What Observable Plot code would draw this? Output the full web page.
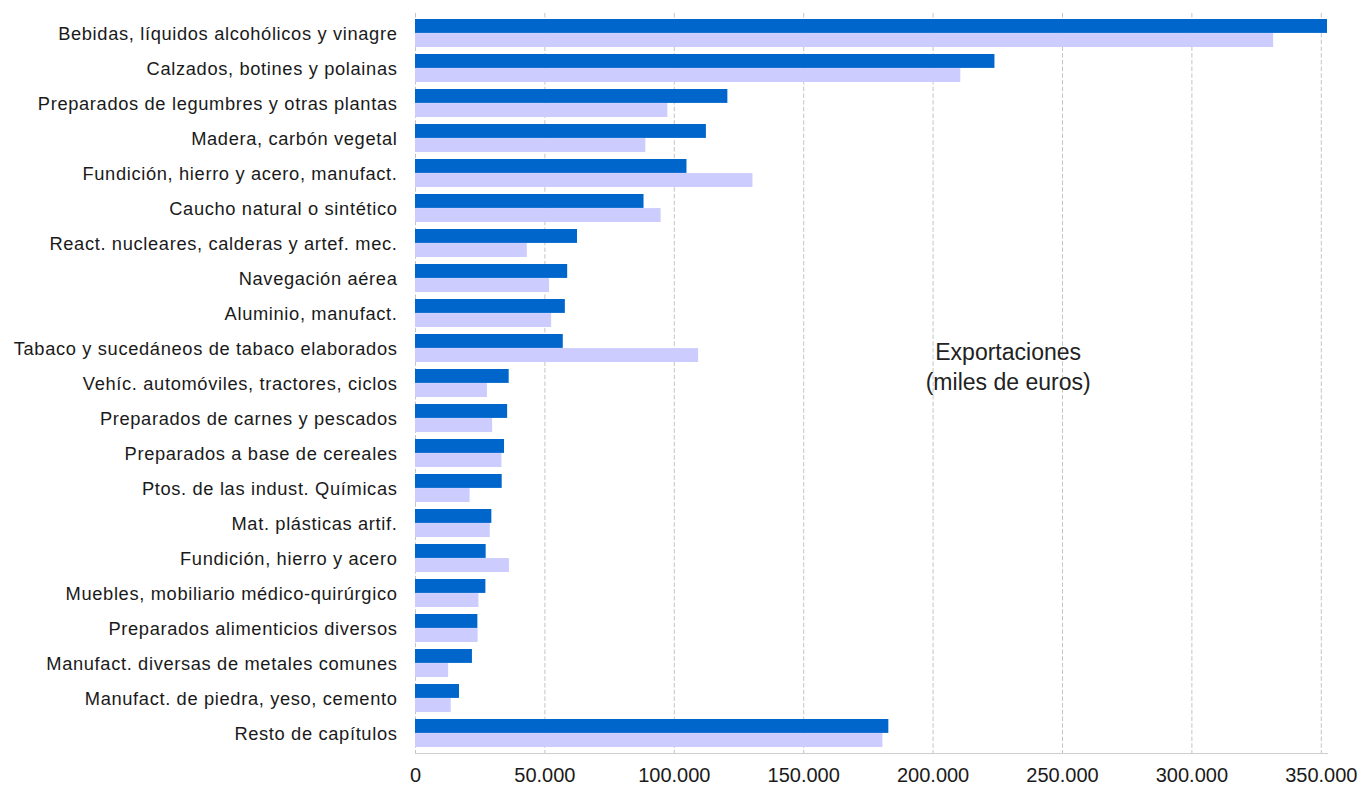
<!DOCTYPE html>
<html>
<head>
<meta charset="utf-8">
<script src="https://cdn.jsdelivr.net/npm/d3@7"></script>
<script src="https://cdn.jsdelivr.net/npm/@observablehq/plot@0.6"></script>
<style>
  html, body { margin: 0; padding: 0; background: #fff; overflow: hidden; }
  #chart svg { display: block; font-family: "Liberation Sans", Arial, Helvetica, sans-serif; color: #1a1a1a; }
  #chart g[aria-label="y-axis tick label"] text { letter-spacing: 0.65px; }
</style>
</head>
<body>
<div id="chart"></div>
<script>
// ---- Data (miles de euros) ----
const categories = [
  "Bebidas, líquidos alcohólicos y vinagre",
  "Calzados, botines y polainas",
  "Preparados de legumbres y otras plantas",
  "Madera, carbón vegetal",
  "Fundición, hierro y acero, manufact.",
  "Caucho natural o sintético",
  "React. nucleares, calderas y artef. mec.",
  "Navegación aérea",
  "Aluminio, manufact.",
  "Tabaco y sucedáneos de tabaco elaborados",
  "Vehíc. automóviles, tractores, ciclos",
  "Preparados de carnes y pescados",
  "Preparados a base de cereales",
  "Ptos. de las indust. Químicas",
  "Mat. plásticas artif.",
  "Fundición, hierro y acero",
  "Muebles, mobiliario médico-quirúrgico",
  "Preparados alimenticios diversos",
  "Manufact. diversas de metales comunes",
  "Manufact. de piedra, yeso, cemento",
  "Resto de capítulos"
];
const seriesCurrent = [352400, 223900, 120700, 112400, 104900, 88300, 62600, 58800, 57900, 57100,
  36200, 35600, 34400, 33500, 29500, 27300, 27200, 24100, 22000, 17000, 182900];
const seriesPrevious = [331600, 210700, 97500, 89000, 130400, 94900, 43200, 51800, 52600, 109400,
  27800, 29800, 33400, 21100, 28900, 36300, 24500, 24200, 12800, 13800, 180600];
const xTicks = [0, 50000, 100000, 150000, 200000, 250000, 300000, 350000];
const annotationText = ["Exportaciones\n(miles de euros)"];
const annotationX = [229000];
const annotationRow = ["Tabaco y sucedáneos de tabaco elaborados"];

// ---- Build tables ----
const current = categories.map((c, i) => ({cat: c, v: seriesCurrent[i]}));
const previous = categories.map((c, i) => ({cat: c, v: seriesPrevious[i]}));
const annotation = annotationText.map((t, i) => ({text: t, x: annotationX[i], cat: annotationRow[i]}));

const fmt = d3.formatLocale({decimal: ",", thousands: ".", grouping: [3], currency: ["", " €"]}).format(",d");

const width = 1359, height = 785;
const marginTop = 13, marginBottom = 32;
const n = categories.length;
const pInner = 0.2, pOuter = 0.1;
const step = (height - marginTop - marginBottom) / (n - pInner + 2 * pOuter);
const half = step * (1 - pInner) / 2;

const chart = Plot.plot({
  width, height,
  marginLeft: 415, marginRight: 32, marginTop, marginBottom,
  x: {domain: [0, d3.max([...seriesCurrent, ...seriesPrevious])]},
  y: {domain: categories, paddingInner: pInner, paddingOuter: pOuter, align: 0.5},
  marks: [
    Plot.gridX(xTicks, {stroke: "#c4c4c4", strokeOpacity: 1, strokeDasharray: "4.5,2.2"}),
    Plot.frame({anchor: "bottom", stroke: "#cfcfcf"}),
    Plot.barX(current, {x: "v", y: "cat", fill: "#0066cc", insetBottom: half}),
    Plot.barX(previous, {x: "v", y: "cat", fill: "#ccccff", insetTop: half}),
    Plot.axisX(xTicks, {tickSize: 0, tickPadding: 14, fontSize: 20, tickFormat: fmt, label: null, fill: "#1a1a1a"}),
    Plot.axisY({tickSize: 0, tickPadding: 18, fontSize: 18.3, label: null, fill: "#1a1a1a", dy: 1}),
    Plot.text(annotation, {x: "x", y: "cat", text: "text", dy: 17, fontSize: 23, lineHeight: 1.28, fill: "#222"})
  ]
});
document.getElementById("chart").appendChild(chart);
</script>
</body>
</html>
